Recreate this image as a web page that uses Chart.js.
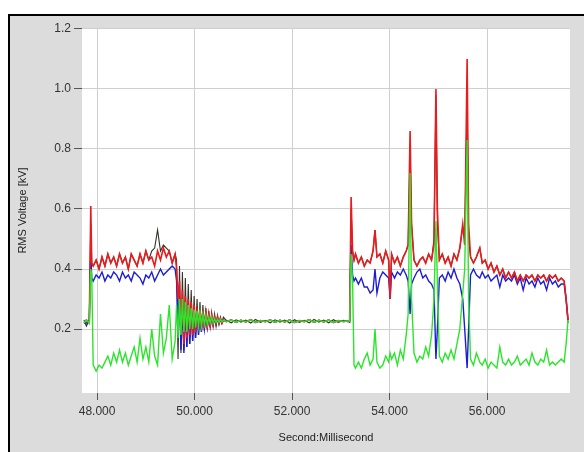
<!DOCTYPE html>
<html><head><meta charset="utf-8">
<script src="https://cdn.jsdelivr.net/npm/chart.js@4.4.0/dist/chart.umd.min.js"></script>
<style>html,body{margin:0;padding:0;background:#fff;}#wrap{width:584px;height:452px;position:relative;}</style>
</head><body><div id="wrap"><canvas id="c" width="584" height="452"></canvas></div>
<script>
// time axis (seconds)
const seconds = [
 47.73,47.78,47.84,47.87,47.89,
 47.92,47.98,48.04,48.10,48.16,48.22,48.28,48.34,48.40,48.46,48.52,48.58,48.64,48.70,48.76,48.82,48.88,48.94,49.00,49.06,49.12,49.18,49.24,49.30,49.36,49.42,49.48,49.54,49.60,
 49.63,49.66,49.69,49.72,49.75,49.78,49.81,49.84,49.87,49.90,49.93,49.96,49.99,50.02,50.05,50.08,50.11,50.14,50.17,50.20,50.23,50.26,50.29,50.32,50.35,50.38,50.41,50.44,50.47,50.50,50.53,50.56,50.59,
 50.65,50.75,50.85,50.95,51.05,51.15,51.25,51.35,51.45,51.55,51.65,51.75,51.85,51.95,52.05,52.15,52.25,52.35,52.45,52.55,52.65,52.75,52.85,52.95,53.05,53.15,
 53.18,53.21,53.24,53.27,
 53.30,53.36,53.42,53.48,53.54,53.60,53.66,53.70,53.74,53.80,53.86,53.92,53.98,54.01,54.04,54.10,54.16,54.22,54.28,54.34,54.38,54.42,54.45,54.50,54.56,54.62,54.68,54.74,54.80,54.86,54.91,54.95,54.98,55.02,55.08,55.14,55.20,55.26,55.32,55.38,55.44,55.50,55.54,55.59,55.62,55.66,55.72,55.78,55.85,55.90,55.96,56.02,56.08,56.14,56.20,56.26,56.32,56.38,56.44,56.50,56.56,56.62,56.68,56.74,56.80,56.86,56.92,56.98,57.04,57.10,57.16,57.22,57.28,57.34,57.40,57.46,57.52,57.58,57.62,57.66
];
const redPhase = [
 .22,.23,.22,.61,.42,
 .41,.43,.40,.44,.41,.45,.42,.44,.41,.45,.42,.44,.40,.45,.43,.41,.45,.42,.46,.43,.44,.41,.46,.43,.47,.44,.46,.42,.45,
 .40,.30,.36,.18,.33,.15,.31,.17,.30,.18,.29,.18,.28,.19,.27,.20,.265,.20,.26,.205,.255,.21,.25,.21,.245,.215,.24,.22,.24,.22,.235,.22,.23,
 .225,.230,.223,.229,.224,.231,.222,.228,.225,.230,.223,.229,.224,.230,.222,.228,.225,.231,.223,.229,.224,.230,.222,.228,.225,.227,
 .226,.64,.46,.43,
 .45,.42,.44,.41,.43,.42,.46,.53,.44,.45,.42,.46,.43,.30,.45,.42,.44,.41,.44,.46,.48,.86,.55,.43,.41,.43,.44,.42,.45,.43,.48,1.00,.60,.43,.45,.42,.44,.41,.45,.43,.47,.55,.48,1.10,.55,.44,.42,.44,.47,.42,.43,.40,.42,.39,.41,.38,.40,.37,.39,.37,.39,.36,.38,.36,.38,.37,.38,.36,.38,.37,.38,.36,.38,.37,.38,.36,.37,.36,.30,.23
];
const bluePhase = [
 .22,.22,.23,.45,.37,
 .36,.38,.37,.39,.36,.38,.37,.39,.38,.36,.39,.37,.38,.36,.39,.38,.37,.35,.38,.37,.39,.36,.38,.40,.38,.39,.40,.41,.40,
 .36,.22,.30,.13,.28,.12,.27,.14,.26,.15,.27,.16,.26,.17,.26,.18,.255,.19,.25,.20,.245,.205,.24,.21,.24,.215,.235,.215,.235,.22,.23,.22,.23,
 .225,.230,.223,.229,.224,.231,.222,.228,.225,.230,.223,.229,.224,.230,.222,.228,.225,.231,.223,.229,.224,.230,.222,.228,.225,.227,
 .223,.48,.38,.36,
 .37,.35,.37,.34,.34,.32,.33,.40,.32,.37,.39,.38,.37,.30,.39,.37,.39,.38,.40,.38,.36,.25,.35,.37,.39,.40,.37,.38,.36,.35,.33,.10,.20,.37,.38,.36,.39,.37,.40,.37,.35,.30,.20,.07,.20,.38,.40,.38,.37,.39,.37,.38,.36,.37,.38,.34,.38,.36,.37,.36,.38,.35,.37,.33,.37,.35,.36,.34,.37,.35,.36,.33,.37,.35,.36,.34,.35,.35,.30,.23
];
const greenPhase = [
 .22,.23,.22,.40,.38,
 .08,.06,.08,.07,.09,.11,.08,.12,.09,.13,.09,.12,.08,.11,.14,.09,.17,.10,.14,.09,.20,.11,.08,.25,.12,.17,.28,.10,.16,
 .28,.17,.30,.18,.30,.19,.29,.19,.28,.20,.27,.20,.265,.205,.26,.21,.255,.21,.25,.215,.245,.215,.24,.22,.24,.22,.235,.222,.233,.223,.232,.224,.23,
 .225,.230,.223,.229,.224,.231,.222,.228,.225,.230,.223,.229,.224,.230,.222,.228,.225,.231,.223,.229,.224,.230,.222,.228,.225,.227,
 .227,.45,.36,.08,
 .07,.09,.07,.10,.12,.08,.10,.20,.09,.07,.08,.11,.09,.12,.10,.12,.08,.13,.10,.18,.25,.72,.30,.12,.09,.11,.10,.14,.11,.18,.30,.56,.35,.11,.09,.12,.10,.13,.10,.15,.20,.32,.40,.83,.30,.10,.08,.12,.09,.08,.10,.07,.09,.08,.07,.14,.09,.08,.10,.08,.09,.11,.08,.09,.10,.08,.12,.09,.08,.10,.09,.13,.08,.09,.08,.09,.10,.09,.15,.23
];
const blackPhase = [
 .23,.21,.23,.55,.42,
 .41,.43,.40,.44,.41,.45,.42,.44,.41,.45,.42,.44,.40,.45,.43,.41,.45,.42,.46,.43,.46,.47,.53,.46,.48,.47,.46,.42,.45,
 .43,.10,.41,.12,.39,.13,.37,.14,.35,.15,.33,.16,.31,.17,.30,.18,.29,.19,.28,.195,.27,.20,.26,.205,.255,.21,.25,.21,.245,.215,.24,.22,.24,
 .229,.221,.231,.223,.230,.220,.232,.222,.229,.221,.231,.223,.230,.220,.231,.222,.229,.221,.232,.223,.230,.221,.231,.222,.229,.224,
 .227,.60,.46,.43,
 .45,.42,.44,.41,.43,.42,.46,.53,.44,.45,.42,.46,.43,.30,.45,.42,.44,.41,.44,.46,.48,.80,.55,.43,.41,.43,.44,.42,.45,.43,.50,.98,.55,.43,.45,.42,.44,.41,.45,.43,.47,.54,.50,.96,.50,.44,.42,.44,.47,.42,.43,.40,.42,.39,.41,.38,.40,.37,.39,.37,.39,.36,.38,.36,.38,.37,.38,.36,.38,.37,.38,.36,.38,.37,.38,.36,.37,.36,.30,.22
];
const xTicks = [48, 50, 52, 54, 56];
const yTicks = [0.2, 0.4, 0.6, 0.8, 1.0, 1.2];

const pts = ys => seconds.map((t, i) => ({x: t, y: ys[i]}));
const lineDs = (label, ys, color, w) => ({label, data: pts(ys), borderColor: color, borderWidth: w, pointRadius: 0, tension: 0, fill: false});

const framePlugin = {
  id: 'frame',
  beforeDraw(chart) {
    const ctx = chart.ctx, a = chart.chartArea;
    ctx.save();
    ctx.fillStyle = '#ffffff';
    ctx.fillRect(0, 0, chart.width, chart.height);
    ctx.fillStyle = '#dcdcdc';
    ctx.fillRect(8, 14, chart.width - 8, chart.height - 14);
    ctx.fillStyle = '#000000';
    ctx.fillRect(8, 14, chart.width - 8, 2);
    ctx.fillRect(8, 14, 2, chart.height - 14);
    ctx.fillStyle = '#ffffff';
    ctx.fillRect(a.left, a.top, a.right - a.left, a.bottom - a.top);
    ctx.restore();
  }
};

const tickFont = {family: 'Liberation Sans, Arial, sans-serif', size: 12};
const titleFont = {family: 'Liberation Sans, Arial, sans-serif', size: 11};

new Chart(document.getElementById('c'), {
  type: 'line',
  data: {
    datasets: [
      lineDs('Phase C', greenPhase, 'rgb(45,228,45)', 1.4),
      lineDs('Phase A', redPhase, 'rgb(232,28,28)', 1.6),
      lineDs('Phase B', bluePhase, 'rgb(28,28,215)', 1.4),
      lineDs('Neutral', blackPhase, 'rgb(50,50,40)', 1.1)
    ]
  },
  options: {
    responsive: false,
    animation: false,
    events: [],
    layout: {padding: {left: 8, top: 28, right: 14, bottom: 0}},
    plugins: {legend: {display: false}, tooltip: {enabled: false}},
    scales: {
      x: {
        type: 'linear', min: 47.69, max: 57.70,
        afterBuildTicks: s => { s.ticks = xTicks.map(v => ({value: v})); },
        afterFit: s => { s.height = 59; },
        ticks: {callback: v => Number(v).toFixed(3), font: tickFont, color: '#333', padding: 4, maxRotation: 0, autoSkip: false},
        grid: {color: '#cfcfcf', lineWidth: 1, tickColor: '#555', tickLength: 7},
        border: {display: false},
        title: {display: true, text: 'Second:Millisecond', font: titleFont, color: '#222', padding: {top: 0, bottom: 7}}
      },
      y: {
        min: -0.013, max: 1.203,
        afterBuildTicks: s => { s.ticks = yTicks.map(v => ({value: v})); },
        afterFit: s => { s.width = 74; },
        ticks: {callback: v => Number(v).toFixed(1), font: tickFont, color: '#333', padding: 3},
        grid: {color: '#cfcfcf', lineWidth: 1, tickColor: '#555', tickLength: 8},
        border: {display: false},
        title: {display: true, text: 'RMS Voltage [kV]', font: titleFont, color: '#222', padding: {top: 8.4, bottom: 0}}
      }
    }
  },
  plugins: [framePlugin]
});
</script></body></html>
